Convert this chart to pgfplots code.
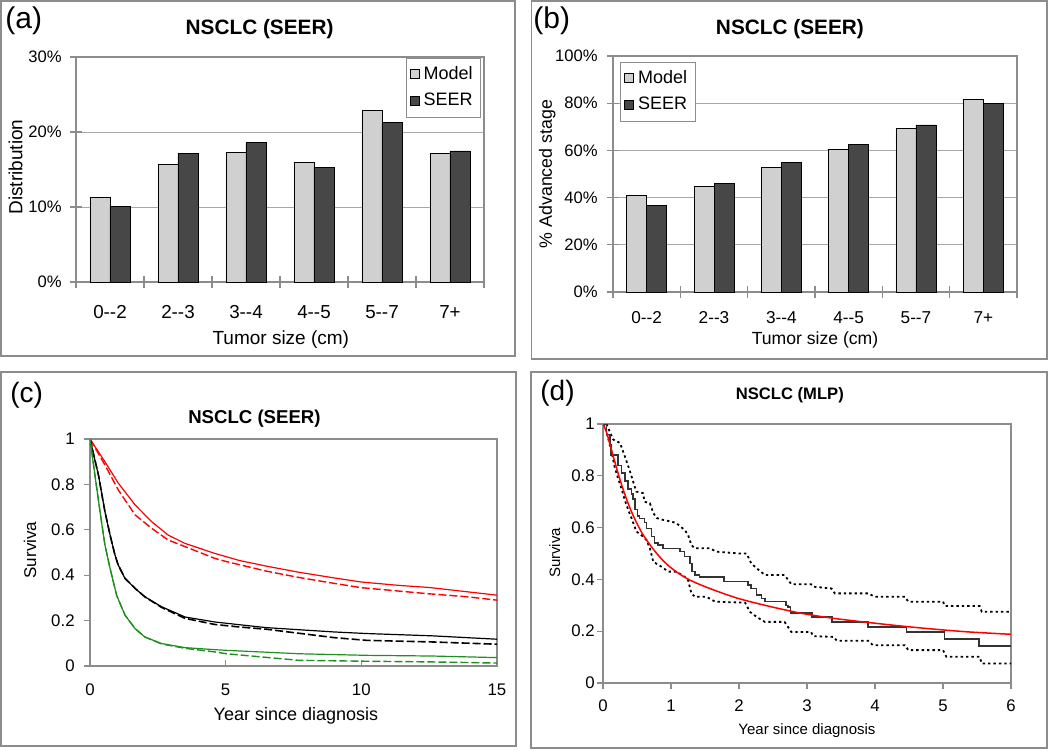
\documentclass[border=0pt]{standalone}
\usepackage{fontspec}
\setmainfont{Liberation Sans}
\usepackage{pgfplots}
\pgfplotsset{compat=1.18}

\definecolor{modelgray}{HTML}{D0D0D0}
\definecolor{seergray}{HTML}{474747}
\definecolor{framegray}{HTML}{8C8C8C}
\definecolor{gridgray}{HTML}{A8A8A8}
\definecolor{kmgreen}{HTML}{1F8F1F}
\definecolor{kmdark}{HTML}{333333}

\pgfplotsset{
  barpanel/.style={
    scale only axis,
    ybar=0pt, bar width=10pt,
    xmin=-0.5, xmax=5.5,
    xtick={-0.5,0.5,1.5,2.5,3.5,4.5,5.5}, xticklabels={},
    extra x ticks={0,1,2,3,4,5},
    extra x tick labels={0-{}-2,2-{}-3,3-{}-4,4-{}-5,5-{}-7,7+},
    extra x tick style={major tick length=0pt},
    tick align=center, major tick length=6pt, tick pos=left,
    ymajorgrids, grid style={gridgray, line width=0.5pt},
    axis line style={framegray, line width=0.6pt},
    tick style={framegray, line width=0.6pt},
    yticklabel style={font=\fontsize{8.3}{10}\selectfont},
    title style={font=\bfseries\fontsize{10.4}{12}\selectfont, anchor=center, yshift=-7pt},
    legend image code/.code={\draw[#1,draw=black,line width=0.4pt] (0pt,-2.25pt) rectangle (4.5pt,2.25pt);},
    legend cell align=left,
    every axis plot/.append style={draw=black, line width=0.4pt},
  },
  survpanel/.style={
    scale only axis,
    tick pos=left, tick align=outside, major tick length=3pt,
    axis line style={framegray, line width=0.6pt},
    tick style={framegray, line width=0.6pt},
    ymin=0, ymax=1, ytick={0,0.2,0.4,0.6,0.8,1},
    /pgf/number format/assume math mode=true,
    tick label style={font=\fontsize{8.4}{10}\selectfont},
    yticklabel style={anchor=east, inner sep=0pt},
    xticklabel style={anchor=center, inner sep=0pt},
    title style={anchor=center, yshift=-7pt},
  },
}

\begin{document}
\begin{tikzpicture}
\path[use as bounding box] (0pt,0pt) rectangle (525pt,-375pt);

% panel frames
\draw[framegray, line width=0.75pt] (0.5pt,-0.5pt) rectangle (257.5pt,-178pt);
\draw[framegray, line width=0.75pt] (265.75pt,-0.5pt) rectangle (523.5pt,-179.5pt);
\draw[framegray, line width=0.75pt] (0.5pt,-186pt) rectangle (258pt,-373pt);
\draw[framegray, line width=0.75pt] (265.5pt,-186pt) rectangle (523.5pt,-374pt);

% panel letters
\node[anchor=west, inner sep=0pt, font=\fontsize{15}{17}\selectfont] at (2.5pt,-10.5pt) {(a)};
\node[anchor=west, inner sep=0pt, font=\fontsize{15}{17}\selectfont] at (266.5pt,-10.5pt) {(b)};
\node[anchor=west, inner sep=0pt, font=\fontsize{14}{16}\selectfont] at (5pt,-197.5pt) {(c)};
\node[anchor=west, inner sep=0pt, font=\fontsize{14}{16}\selectfont] at (270pt,-196.5pt) {(d)};

% (a) size distribution
\begin{axis}[barpanel,
  at={(38pt,-141pt)}, anchor=south west,
  width=204pt, height=112.5pt,
  ymin=0, ymax=30, ytick={0,10,20,30},
  yticklabels={0\%,10\%,20\%,30\%},
  xticklabel style={anchor=center, inner sep=0pt, yshift=-15pt, font=\fontsize{9.4}{11}\selectfont},
  yticklabel style={anchor=east, inner sep=0pt, xshift=-4pt},
  title={NSCLC (SEER)},
  title style={at={(axis description cs:0.45,1.133)}},
  xlabel={Tumor size (cm)},
  xlabel style={at={(axis description cs:0.502,-0.258)}, anchor=center, font=\fontsize{9.5}{11}\selectfont},
  ylabel={Distribution},
  ylabel style={at={(axis description cs:-0.148,0.511)}, anchor=center, font=\fontsize{9.5}{11}\selectfont},
  legend style={at={(axis description cs:0.993,0.996)}, anchor=north east,
    draw=framegray, fill=white, font=\fontsize{9}{10}\selectfont,
    inner xsep=2pt, inner ysep=2pt, row sep=1.5pt,
    /tikz/every even column/.append style={column sep=2pt}},
]
\addplot[fill=modelgray] coordinates {(0,11.33) (1,15.69) (2,17.33) (3,15.96) (4,22.84) (5,17.16)};
\addlegendentry{Model}
\addplot[fill=seergray] coordinates {(0,10.09) (1,17.16) (2,18.58) (3,15.29) (4,21.24) (5,17.47)};
\addlegendentry{SEER}
\end{axis}

% (b) advanced stage
\begin{axis}[barpanel,
  at={(306.5pt,-146pt)}, anchor=south west,
  width=202pt, height=118pt,
  ymin=0, ymax=100, ytick={0,20,40,60,80,100},
  yticklabels={0\%,20\%,40\%,60\%,80\%,100\%},
  xticklabel style={anchor=center, inner sep=0pt, yshift=-13pt, font=\fontsize{8.6}{10}\selectfont},
  yticklabel style={anchor=east, inner sep=0pt, xshift=-4.5pt},
  title={NSCLC (SEER)},
  title style={at={(axis description cs:0.438,1.123)}},
  xlabel={Tumor size (cm)},
  xlabel style={at={(axis description cs:0.5,-0.203)}, anchor=center, font=\fontsize{8.8}{10}\selectfont},
  ylabel={\% Advanced stage},
  ylabel style={at={(axis description cs:-0.163,0.5)}, anchor=center, font=\fontsize{8.9}{10}\selectfont},
  legend style={at={(axis description cs:0.017,0.975)}, anchor=north west,
    draw=framegray, fill=white, font=\fontsize{9}{10}\selectfont,
    inner xsep=2pt, inner ysep=2pt, row sep=1.5pt,
    /tikz/every even column/.append style={column sep=2pt}},
]
\addplot[fill=modelgray] coordinates {(0,41.04) (1,44.85) (2,52.75) (3,60.37) (4,69.25) (5,81.52)};
\addlegendentry{Model}
\addplot[fill=seergray] coordinates {(0,36.67) (1,46.12) (2,54.87) (3,62.62) (4,70.80) (5,79.83)};
\addlegendentry{SEER}
\end{axis}

% (c) survival by stage, SEER
\begin{axis}[survpanel,
  at={(45pt,-333pt)}, anchor=south west,
  width=203.5pt, height=113.5pt,
  xmin=0, xmax=15, xtick={0,5,10,15},
  xtick align=inside,
  xticklabel style={yshift=-12pt},
  yticklabel style={xshift=-4.5pt},
  title={NSCLC (SEER)},
  title style={at={(axis description cs:0.404,1.097)}, font=\bfseries\fontsize{9.3}{11}\selectfont},
  xlabel={Year since diagnosis},
  xlabel style={at={(axis description cs:0.506,-0.22)}, anchor=center, font=\fontsize{9}{11}\selectfont},
  ylabel={Surviva},
  ylabel style={at={(axis description cs:-0.147,0.511)}, anchor=center, font=\fontsize{8.5}{10}\selectfont},
]
\addplot[red, line width=0.6pt] coordinates {
  (0,1) (0.55,0.90) (1.04,0.806) (1.66,0.71) (2.27,0.636) (2.88,0.577) (3.5,0.54)
  (4.6,0.496) (5.5,0.465) (6.5,0.44) (7.7,0.413) (9,0.388) (10,0.37) (11.4,0.355)
  (12.5,0.346) (13.9,0.327) (15,0.312)};
\addplot[red, line width=0.7pt, dash pattern=on 4pt off 1.5pt] coordinates {
  (0,1) (0.55,0.886) (1.04,0.776) (1.66,0.666) (2.27,0.607) (2.88,0.555) (3.5,0.526)
  (4.6,0.474) (5.03,0.46) (6.5,0.418) (7.7,0.39) (9,0.364) (10,0.345) (11.4,0.33)
  (12.5,0.318) (13.9,0.305) (15,0.29)};
\addplot[black, line width=0.6pt] coordinates {
  (0,1) (0.31,0.842) (0.55,0.68) (0.74,0.577) (0.92,0.489) (1.04,0.445) (1.29,0.386)
  (1.66,0.342) (2.02,0.305) (2.64,0.261) (3.5,0.216) (4.6,0.194) (5.5,0.182)
  (6.5,0.169) (9,0.15) (10.2,0.143) (12.6,0.133) (15,0.118)};
\addplot[black, line width=0.8pt, dash pattern=on 4pt off 1.5pt] coordinates {
  (0,1) (0.31,0.842) (0.55,0.68) (0.74,0.577) (0.92,0.489) (1.04,0.445) (1.29,0.386)
  (1.66,0.342) (2.02,0.305) (2.64,0.258) (3.5,0.21) (4.6,0.183) (5.5,0.172)
  (6.5,0.162) (9,0.125) (10.2,0.113) (12.6,0.106) (15,0.096)};
\addplot[kmgreen, line width=0.6pt] coordinates {
  (0,1) (0.18,0.842) (0.37,0.68) (0.55,0.533) (0.74,0.43) (0.98,0.312) (1.29,0.224)
  (1.66,0.165) (2.02,0.128) (2.64,0.099) (3.5,0.081) (4.6,0.072) (5.03,0.069)
  (7.7,0.054) (10.2,0.047) (12.6,0.044) (15,0.037)};
\addplot[kmgreen, line width=0.7pt, dash pattern=on 4pt off 1.5pt] coordinates {
  (0,1) (0.18,0.842) (0.37,0.68) (0.55,0.533) (0.74,0.43) (0.98,0.312) (1.29,0.224)
  (1.66,0.165) (2.02,0.128) (2.64,0.097) (3.5,0.078) (4.6,0.062) (5.03,0.054)
  (7.7,0.025) (10.2,0.021) (12.6,0.018) (15,0.013)};
\end{axis}

% (d) survival, MLP
\begin{axis}[survpanel,
  at={(301.5pt,-341.5pt)}, anchor=south west,
  width=204pt, height=129.5pt,
  xmin=0, xmax=6, xtick={0,1,2,3,4,5,6},
  xticklabel style={yshift=-8.5pt},
  yticklabel style={xshift=-1pt},
  title={NSCLC (MLP)},
  title style={at={(axis description cs:0.458,1.12)}, font=\bfseries\fontsize{8.3}{10}\selectfont},
  xlabel={Year since diagnosis},
  xlabel style={at={(axis description cs:0.5,-0.185)}, anchor=center, font=\fontsize{7.5}{9}\selectfont},
  ylabel={Surviva},
  ylabel style={at={(axis description cs:-0.118,0.502)}, anchor=center, font=\fontsize{7.5}{9}\selectfont},
]
% upper confidence limit
\addplot[black, line width=0.9pt, dash pattern=on 1.2pt off 1.5pt] coordinates {
  (0.05,1.0) (0.15,0.94) (0.25,0.927) (0.32,0.876) (0.39,0.823) (0.45,0.772) (0.49,0.739)
  (0.59,0.733) (0.61,0.70) (0.69,0.694) (0.74,0.656) (0.79,0.637) (0.88,0.63) (1.01,0.623)
  (1.08,0.617) (1.20,0.591) (1.25,0.572) (1.30,0.533) (1.35,0.52) (1.57,0.52) (1.67,0.507)
  (2.01,0.50) (2.11,0.50) (2.18,0.462) (2.26,0.443) (2.38,0.417) (2.67,0.417) (2.77,0.381)
  (3.06,0.381) (3.09,0.372) (3.36,0.365) (3.41,0.346) (3.90,0.346) (4.0,0.333) (4.44,0.333)
  (4.49,0.314) (5.0,0.314) (5.03,0.297) (5.54,0.297) (5.57,0.275) (6.0,0.275)};
% lower confidence limit
\addplot[black, line width=0.9pt, dash pattern=on 1.2pt off 1.5pt] coordinates {
  (0,1.0) (0.03,0.992) (0.08,0.94) (0.13,0.888) (0.17,0.836) (0.22,0.791) (0.27,0.753)
  (0.32,0.707) (0.37,0.669) (0.42,0.636) (0.49,0.585) (0.56,0.572) (0.64,0.552) (0.69,0.52)
  (0.74,0.468) (0.86,0.449) (0.96,0.43) (1.08,0.43) (1.20,0.41) (1.25,0.398) (1.30,0.346)
  (1.35,0.333) (1.52,0.333) (1.65,0.314) (2.09,0.31) (2.16,0.275) (2.26,0.255) (2.38,0.236)
  (2.67,0.236) (2.77,0.197) (3.06,0.197) (3.09,0.181) (3.39,0.178) (3.44,0.163) (3.90,0.163)
  (3.97,0.146) (4.44,0.146) (4.49,0.127) (5.0,0.127) (5.05,0.101) (5.54,0.101) (5.57,0.075)
  (6.0,0.075)};
% Kaplan-Meier estimate
\addplot[kmdark, line width=0.75pt, const plot] coordinates {
  (0,1) (0.05,0.96) (0.10,0.92) (0.12,0.88) (0.22,0.84) (0.27,0.81) (0.32,0.78) (0.37,0.75)
  (0.42,0.73) (0.44,0.71) (0.47,0.67) (0.51,0.645) (0.54,0.635) (0.61,0.62) (0.64,0.597)
  (0.71,0.565) (0.76,0.54) (0.81,0.533) (0.88,0.52) (1.13,0.507) (1.20,0.488) (1.28,0.462)
  (1.31,0.43) (1.35,0.417) (1.42,0.41) (1.78,0.391) (2.13,0.378) (2.18,0.365) (2.26,0.34)
  (2.33,0.326) (2.38,0.314) (2.69,0.30) (2.72,0.294) (2.76,0.271) (3.07,0.255) (3.37,0.236)
  (3.90,0.217) (4.46,0.197) (5.02,0.169) (5.53,0.142) (6.0,0.142)};
% model
\addplot[red, line width=0.75pt, smooth] coordinates {
  (0,1) (0.054,0.966) (0.15,0.876) (0.25,0.785) (0.35,0.707) (0.45,0.643) (0.59,0.572)
  (0.79,0.50) (0.98,0.449) (1.23,0.404) (1.52,0.37) (1.97,0.328) (2.43,0.297) (2.92,0.269)
  (3.41,0.249) (3.96,0.232) (4.42,0.219) (4.91,0.207) (5.39,0.197) (6,0.188)};
\end{axis}
\end{tikzpicture}
\end{document}
